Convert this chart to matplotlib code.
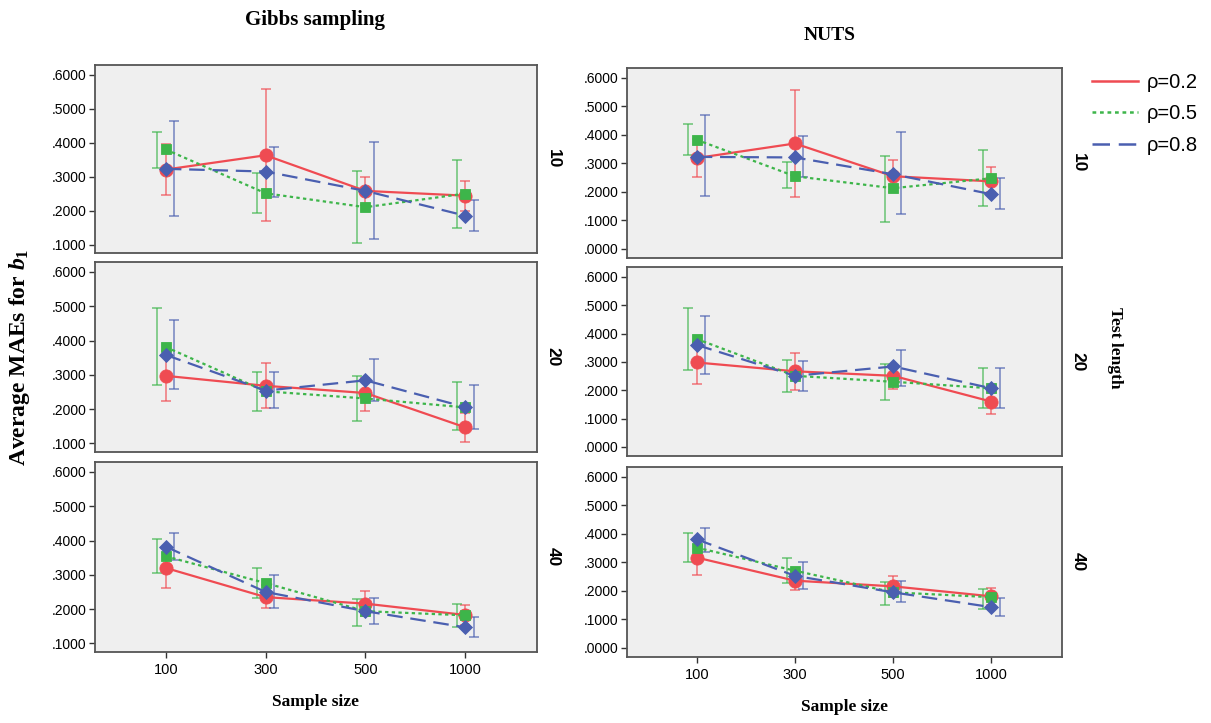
import numpy as np
import matplotlib
matplotlib.use("Agg")
import matplotlib.pyplot as plt
from matplotlib.lines import Line2D

# mathtext: bold italic b with bold subscript, Times-like
plt.rcParams['mathtext.fontset'] = 'custom'
plt.rcParams['mathtext.it'] = 'Liberation Serif:italic:bold'
plt.rcParams['mathtext.rm'] = 'Liberation Serif:bold'

sample_sizes = ['100', '300', '500', '1000']
rho_labels = ['ρ=0.2', 'ρ=0.5', 'ρ=0.8']
test_lengths = ['10', '20', '40']

# means and error bar ends, rows = rho 0.2 / 0.5 / 0.8
gibbs10_mean = [[0.321, 0.363, 0.258, 0.244],
                [0.380, 0.251, 0.210, 0.250],
                [0.323, 0.315, 0.258, 0.185]]
gibbs10_lo = [[0.245, 0.169, 0.215, 0.200],
              [0.326, 0.193, 0.103, 0.149],
              [0.183, 0.239, 0.115, 0.140]]
gibbs10_hi = [[0.395, 0.559, 0.299, 0.287],
              [0.433, 0.312, 0.317, 0.350],
              [0.465, 0.387, 0.402, 0.232]]

gibbs20_mean = [[0.297, 0.268, 0.247, 0.147],
                [0.381, 0.252, 0.231, 0.205],
                [0.358, 0.254, 0.284, 0.206]]
gibbs20_lo = [[0.223, 0.202, 0.196, 0.105],
              [0.271, 0.194, 0.165, 0.139],
              [0.258, 0.202, 0.223, 0.143]]
gibbs20_hi = [[0.370, 0.334, 0.290, 0.190],
              [0.494, 0.308, 0.298, 0.279],
              [0.460, 0.307, 0.347, 0.269]]

gibbs40_mean = [[0.320, 0.235, 0.216, 0.183],
                [0.354, 0.276, 0.194, 0.182],
                [0.382, 0.250, 0.194, 0.147]]
gibbs40_lo = [[0.262, 0.204, 0.180, 0.155],
              [0.304, 0.233, 0.150, 0.149],
              [0.342, 0.204, 0.158, 0.118]]
gibbs40_hi = [[0.380, 0.270, 0.252, 0.211],
              [0.405, 0.320, 0.230, 0.216],
              [0.422, 0.299, 0.231, 0.178]]

nuts10_mean = [[0.319, 0.370, 0.255, 0.237],
               [0.383, 0.255, 0.213, 0.248],
               [0.323, 0.321, 0.262, 0.192]]
nuts10_lo = [[0.251, 0.181, 0.200, 0.200],
             [0.329, 0.212, 0.094, 0.149],
             [0.185, 0.251, 0.121, 0.140]]
nuts10_hi = [[0.385, 0.559, 0.312, 0.286],
             [0.440, 0.306, 0.327, 0.347],
             [0.469, 0.395, 0.410, 0.249]]

nuts20_mean = [[0.298, 0.267, 0.251, 0.160],
               [0.381, 0.251, 0.230, 0.207],
               [0.360, 0.251, 0.284, 0.207]]
nuts20_lo = [[0.223, 0.201, 0.203, 0.116],
             [0.273, 0.193, 0.165, 0.137],
             [0.259, 0.198, 0.216, 0.137]]
nuts20_hi = [[0.370, 0.331, 0.290, 0.200],
             [0.492, 0.308, 0.291, 0.277],
             [0.463, 0.302, 0.343, 0.277]]

nuts40_mean = [[0.317, 0.236, 0.216, 0.181],
               [0.352, 0.271, 0.195, 0.178],
               [0.381, 0.253, 0.195, 0.143]]
nuts40_lo = [[0.257, 0.203, 0.180, 0.150],
             [0.300, 0.228, 0.151, 0.137],
             [0.337, 0.205, 0.160, 0.112]]
nuts40_hi = [[0.380, 0.270, 0.251, 0.210],
             [0.402, 0.317, 0.230, 0.207],
             [0.422, 0.300, 0.236, 0.174]]

gibbs_ticks = [0.1, 0.2, 0.3, 0.4, 0.5, 0.6]
nuts_ticks = [0.0, 0.1, 0.2, 0.3, 0.4, 0.5, 0.6]

colors = ['#ef4b52', '#3db54a', '#4a5fb0']
styles = ['-', (0, (1.5, 1.5)), (0, (7, 3.5))]
markers = ['o', 's', 'D']
msizes = [9.5, 7, 7.5]
dodge = [0.0, -0.085, 0.085]   # error bars sit slightly apart

W, H = 1211, 723
fig = plt.figure(figsize=(W / 100, H / 100), dpi=100)


def box(x0, y0, x1, y1):
    return [x0 / W, 1 - y1 / H, (x1 - x0) / W, (y1 - y0) / H]


left_rows = [(65, 253), (262, 452), (462, 652)]
right_rows = [(68, 258), (267, 456), (467, 657)]

panels = [
    (gibbs10_mean, gibbs10_lo, gibbs10_hi, 'gibbs', 0),
    (gibbs20_mean, gibbs20_lo, gibbs20_hi, 'gibbs', 1),
    (gibbs40_mean, gibbs40_lo, gibbs40_hi, 'gibbs', 2),
    (nuts10_mean, nuts10_lo, nuts10_hi, 'nuts', 0),
    (nuts20_mean, nuts20_lo, nuts20_hi, 'nuts', 1),
    (nuts40_mean, nuts40_lo, nuts40_hi, 'nuts', 2),
]

x = np.arange(len(sample_sizes))

for mean, lo, hi, method, row in panels:
    if method == 'gibbs':
        y0, y1 = left_rows[row]
        ax = fig.add_axes(box(95, y0, 537, y1))
        ticks = gibbs_ticks
        ax.set_ylim(0.075, 0.629)
        lab_x = 553
    else:
        y0, y1 = right_rows[row]
        ax = fig.add_axes(box(627, y0, 1062, y1))
        ticks = nuts_ticks
        ax.set_ylim(-0.032, 0.635)
        lab_x = 1078

    ax.set_facecolor('#efefef')
    for s in ax.spines.values():
        s.set_color('#555555')
        s.set_linewidth(1.3)

    for k in range(3):
        m = np.array(mean[k])
        err = [m - np.array(lo[k]), np.array(hi[k]) - m]
        ax.errorbar(x + dodge[k], m, yerr=err, fmt='none', ecolor=colors[k],
                    elinewidth=1.1, capsize=3.5, capthick=1.1, alpha=0.75, zorder=2)
    for k in range(3):
        ax.plot(x, mean[k], color=colors[k], linestyle=styles[k], linewidth=1.6,
                marker=markers[k], markersize=msizes[k], markeredgewidth=0.6,
                markeredgecolor=colors[k], zorder=3 + k)

    ax.set_xlim(-0.71, 3.72)
    ax.set_yticks(ticks)
    ax.set_yticklabels([f'{t:.4f}'.lstrip('0') if t > 0 else '.0000' for t in ticks],
                       fontsize=10, family='Liberation Sans')
    ax.tick_params(axis='y', direction='out', length=4, width=1, color='#333333', pad=2)
    ax.set_xticks(x)
    if row == 2:
        ax.set_xticklabels(sample_sizes, fontsize=10.5, family='Liberation Sans')
        ax.tick_params(axis='x', direction='out', length=4, width=1, color='#333333', pad=4)
        ax.set_xlabel('Sample size', fontsize=12.5, family='Liberation Serif',
                      fontweight='bold', labelpad=12)
    else:
        ax.tick_params(axis='x', length=0, labelbottom=False)

    fig.text(lab_x / W, 1 - (y0 + y1) / 2 / H, test_lengths[row], rotation=270,
             ha='center', va='center', fontsize=12.5, fontweight='bold',
             family='Liberation Sans')

fig.text(315 / W, 1 - 20 / H, 'Gibbs sampling', ha='center', va='center',
         fontsize=15, fontweight='bold', family='Liberation Serif')
fig.text(830 / W, 1 - 35 / H, 'NUTS', ha='center', va='center',
         fontsize=14, fontweight='bold', family='Liberation Serif')
fig.text(20 / W, 1 - 357 / H, r'Average MAEs for $b_1$', rotation=90,
         ha='center', va='center', fontsize=17, fontweight='bold',
         family='Liberation Serif')
fig.text(1115 / W, 1 - 348 / H, 'Test length', rotation=270, ha='center',
         va='center', fontsize=12.5, fontweight='bold', family='Liberation Serif')

handles = [Line2D([0], [0], color=colors[k], linestyle=styles[k], linewidth=1.8)
           for k in range(3)]
fig.legend(handles, rho_labels, loc='upper left', bbox_to_anchor=(1092 / W, 1 - 73 / H),
           frameon=False, handlelength=2.3, handletextpad=0.4, labelspacing=0.62,
           borderpad=0, borderaxespad=0,
           prop={'family': 'Liberation Sans', 'size': 14.5})

fig.savefig('out.png', dpi=100)
